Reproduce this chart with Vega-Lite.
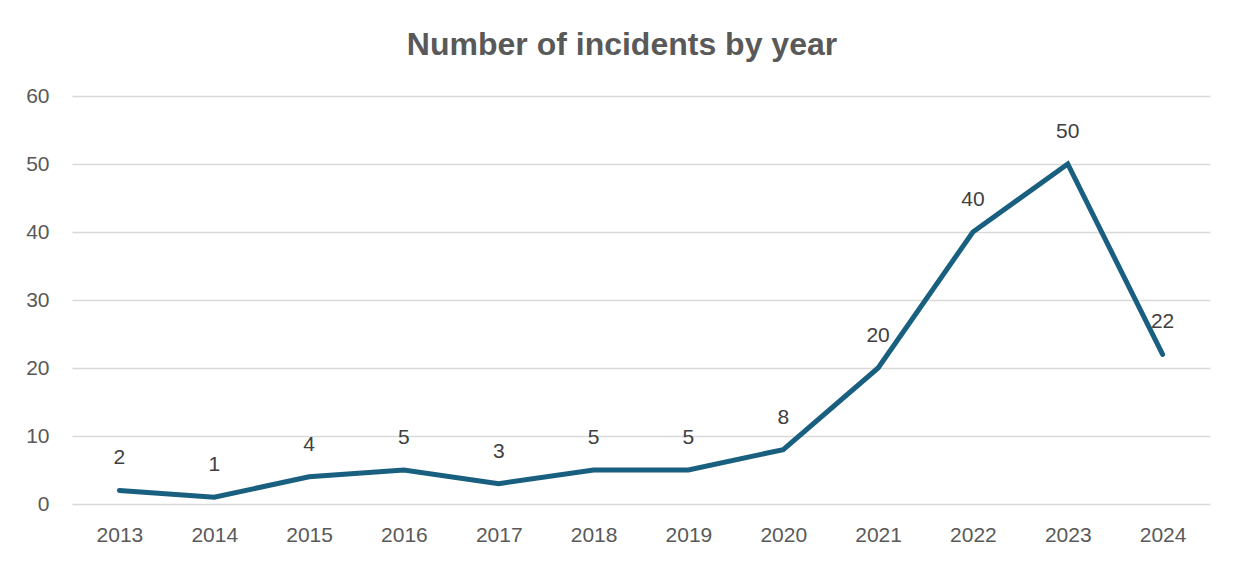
{
  "$schema": "https://vega.github.io/schema/vega-lite/v6.json",
  "width": 1138,
  "height": 408,
  "autosize": {"type": "none"},
  "padding": {"left": 72, "top": 96, "right": 24, "bottom": 59},
  "background": "white",
  "title": {
    "text": "Number of incidents by year",
    "font": "Liberation Sans",
    "fontSize": 32,
    "fontWeight": "bold",
    "color": "#595959",
    "anchor": "middle",
    "dx": -19,
    "offset": 23
  },
  "config": {
    "view": {"stroke": null},
    "font": "Liberation Sans"
  },
  "data": {
    "values": [
      {"year": "2013", "incidents": 2},
      {"year": "2014", "incidents": 1},
      {"year": "2015", "incidents": 4},
      {"year": "2016", "incidents": 5},
      {"year": "2017", "incidents": 3},
      {"year": "2018", "incidents": 5},
      {"year": "2019", "incidents": 5},
      {"year": "2020", "incidents": 8},
      {"year": "2021", "incidents": 20},
      {"year": "2022", "incidents": 40},
      {"year": "2023", "incidents": 50},
      {"year": "2024", "incidents": 22}
    ]
  },
  "encoding": {
    "x": {
      "field": "year",
      "type": "ordinal",
      "scale": {"type": "point", "padding": 0.5},
      "axis": {
        "title": null,
        "labelAngle": 0,
        "labelFontSize": 21,
        "labelColor": "#595959",
        "labelPadding": 20,
        "domain": false,
        "ticks": false,
        "grid": false
      }
    },
    "y": {
      "field": "incidents",
      "type": "quantitative",
      "scale": {"domain": [0, 60]},
      "axis": {
        "title": null,
        "values": [0, 10, 20, 30, 40, 50, 60],
        "labelFontSize": 21,
        "labelColor": "#595959",
        "labelPadding": 23,
        "domain": false,
        "ticks": false,
        "gridColor": "#d9d9d9",
        "gridWidth": 1.5
      }
    }
  },
  "layer": [
    {
      "mark": {"type": "line", "color": "#195f80", "strokeWidth": 5, "strokeCap": "round", "strokeJoin": "miter"}
    },
    {
      "mark": {"type": "text", "fontSize": 21, "color": "#404040", "dy": -32},
      "encoding": {"text": {"field": "incidents", "type": "quantitative"}}
    }
  ]
}
